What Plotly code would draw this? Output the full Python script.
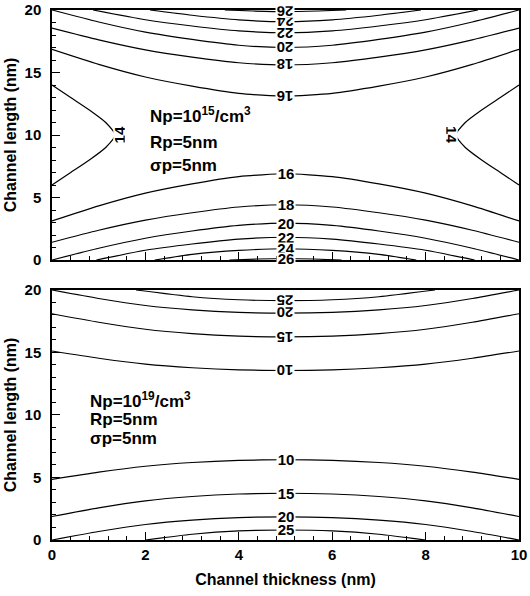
import plotly.graph_objects as go

# ---------------- data ----------------
X_FULL = [0, 1, 2, 3, 4, 5, 6, 7, 8, 9, 10]

# Top panel (Np = 1e15), contour levels and their lines (x, y in nm)
top_16_upper = [16.85, 15.65, 14.64, 13.91, 13.33, 13.10, 13.33, 13.91, 14.64, 15.65, 16.85]
top_16_lower = [3.12, 4.33, 5.35, 6.09, 6.67, 6.90, 6.67, 6.09, 5.35, 4.33, 3.12]
top_18_upper = [18.55, 17.61, 16.81, 16.23, 15.78, 15.60, 15.78, 16.23, 16.81, 17.61, 18.55]
top_18_lower = [1.42, 2.38, 3.19, 3.78, 4.24, 4.42, 4.24, 3.78, 3.19, 2.38, 1.42]
top_20_upper = [20.0, 19.04, 18.23, 17.65, 17.18, 17.00, 17.18, 17.65, 18.23, 19.04, 20.0]
top_20_lower = [0.0, 0.94, 1.74, 2.32, 2.77, 2.95, 2.77, 2.32, 1.74, 0.94, 0.0]
top_22_upper_x = [0.88, 2, 3, 4, 5, 6, 7, 8, 9.12]
top_22_upper = [20.0, 19.22, 18.72, 18.33, 18.18, 18.33, 18.72, 19.22, 20.0]
top_22_lower_x = [0.95, 2, 3, 4, 5, 6, 7, 8, 9.05]
top_22_lower = [0.0, 0.78, 1.28, 1.67, 1.82, 1.67, 1.28, 0.78, 0.0]
top_24_upper_x = [2.1, 3, 4, 5, 6, 7, 7.9]
top_24_upper = [20.0, 19.58, 19.21, 19.07, 19.21, 19.58, 20.0]
top_24_lower_x = [2.2, 3, 4, 5, 6, 7, 7.8]
top_24_lower = [0.0, 0.45, 0.77, 0.90, 0.77, 0.45, 0.0]
top_26_upper_x = [3.7, 4.3, 5, 5.7, 6.3]
top_26_upper = [20.0, 19.92, 19.87, 19.92, 20.0]
top_26_lower_x = [3.8, 4.4, 5, 5.6, 6.2]
top_26_lower = [0.0, 0.08, 0.12, 0.08, 0.0]
top_14_y = [14, 13, 12, 11, 10, 9, 8, 7, 6]
top_14_left_x = [0, 0.40, 0.80, 1.15, 1.35, 1.15, 0.80, 0.40, 0]
top_14_right_x = [10, 9.60, 9.20, 8.85, 8.65, 8.85, 9.20, 9.60, 10]

# Bottom panel (Np = 1e19)
bot_10_upper = [15.12, 14.54, 14.07, 13.78, 13.61, 13.56, 13.61, 13.78, 14.07, 14.54, 15.12]
bot_10_lower = [4.85, 5.43, 5.90, 6.20, 6.37, 6.42, 6.37, 6.20, 5.90, 5.43, 4.85]
bot_15_upper = [18.10, 17.42, 16.86, 16.51, 16.31, 16.25, 16.31, 16.51, 16.86, 17.42, 18.10]
bot_15_lower = [1.88, 2.57, 3.13, 3.48, 3.68, 3.74, 3.68, 3.48, 3.13, 2.57, 1.88]
bot_20_upper = [20.0, 19.32, 18.76, 18.41, 18.21, 18.15, 18.21, 18.41, 18.76, 19.32, 20.0]
bot_20_lower = [0.0, 0.68, 1.24, 1.59, 1.79, 1.85, 1.79, 1.59, 1.24, 0.68, 0.0]
bot_25_upper_x = [1.8, 3, 4, 5, 6, 7, 8.2]
bot_25_upper = [20.0, 19.46, 19.22, 19.15, 19.22, 19.46, 20.0]
bot_25_lower_x = [2.0, 3, 4, 5, 6, 7, 8.0]
bot_25_lower = [0.0, 0.46, 0.73, 0.80, 0.73, 0.46, 0.0]

# (level, x, y, upper-half?) for each labelled line
top_lines = [
    (16, X_FULL, top_16_upper, True), (16, X_FULL, top_16_lower, False),
    (18, X_FULL, top_18_upper, True), (18, X_FULL, top_18_lower, False),
    (20, X_FULL, top_20_upper, True), (20, X_FULL, top_20_lower, False),
    (22, top_22_upper_x, top_22_upper, True), (22, top_22_lower_x, top_22_lower, False),
    (24, top_24_upper_x, top_24_upper, True), (24, top_24_lower_x, top_24_lower, False),
    (26, top_26_upper_x, top_26_upper, True), (26, top_26_lower_x, top_26_lower, False),
]
bot_lines = [
    (10, X_FULL, bot_10_upper, True), (10, X_FULL, bot_10_lower, False),
    (15, X_FULL, bot_15_upper, True), (15, X_FULL, bot_15_lower, False),
    (20, X_FULL, bot_20_upper, True), (20, X_FULL, bot_20_lower, False),
    (25, bot_25_upper_x, bot_25_upper, True), (25, bot_25_lower_x, bot_25_lower, False),
]

X_TICKS = [0, 2, 4, 6, 8, 10]
Y_TICKS = [0, 5, 10, 15, 20]

# ---------------- figure ----------------
FONT = "Liberation Sans, Arial, sans-serif"
fig = go.Figure()
line_style = dict(color="black", width=1.2, shape="spline", smoothing=0.6)

def add_line(x, y, xa, ya):
    fig.add_trace(go.Scatter(x=x, y=y, mode="lines", line=line_style,
                             xaxis=xa, yaxis=ya, hoverinfo="skip", showlegend=False))

annotations = []

def add_label(text, x, y, xa, ya, angle):
    annotations.append(dict(
        text=str(text), x=x, y=y, xref=xa, yref=ya, showarrow=False,
        textangle=angle, bgcolor="white", width=18, height=11, borderpad=0,
        font=dict(family=FONT, size=15, color="black", weight="bold"),
        xanchor="center", yanchor="middle"))

for lines, xa, ya in [(top_lines, "x", "y"), (bot_lines, "x2", "y2")]:
    for level, xs, ys, upper in lines:
        add_line(xs, ys, xa, ya)
        yc = ys[xs.index(5)]
        add_label(level, 5, yc, xa, ya, 180 if upper else 0)

add_line(top_14_left_x, top_14_y, "x", "y")
add_line(top_14_right_x, top_14_y, "x", "y")
add_label(14, top_14_left_x[4] + 0.08, top_14_y[4], "x", "y", -90)
add_label(14, top_14_right_x[4] - 0.08, top_14_y[4], "x", "y", 90)

# parameter text blocks
def add_text(text, x, y, xa, ya, size):
    annotations.append(dict(text=text, x=x, y=y, xref=xa, yref=ya, showarrow=False,
                            xanchor="left", yanchor="middle",
                            font=dict(family=FONT, size=size, color="black", weight="bold")))

add_text("Np=10<sup>15</sup>/cm<sup>3</sup>", 2.05, 11.6, "x", "y", 17)
add_text("Rp=5nm", 2.05, 9.4, "x", "y", 17)
add_text("σp=5nm", 2.05, 7.6, "x", "y", 17)
add_text("Np=10<sup>19</sup>/cm<sup>3</sup>", 0.78, 11.2, "x2", "y2", 17)
add_text("Rp=5nm", 0.78, 9.65, "x2", "y2", 17)
add_text("σp=5nm", 0.78, 8.1, "x2", "y2", 17)

tickfont = dict(family=FONT, size=15, color="black", weight="bold")
titlefont = dict(family=FONT, size=16, color="black", weight="bold")

def xaxis(domain, anchor, labels):
    d = dict(domain=domain, anchor=anchor, range=[0, 10], tickvals=X_TICKS,
             showticklabels=labels, ticks="inside", ticklen=8, tickwidth=1, tickcolor="black",
             minor=dict(ticks="inside", ticklen=4, dtick=0.4, tick0=0, tickcolor="black"),
             showline=True, linecolor="black", linewidth=1.5, mirror=True,
             showgrid=False, zeroline=False, tickfont=tickfont, automargin=False)
    return d

def yaxis(domain, anchor):
    return dict(domain=domain, anchor=anchor, range=[0, 20], tickvals=Y_TICKS,
                ticks="inside", ticklen=8, tickwidth=1, tickcolor="black",
                minor=dict(ticks="inside", ticklen=4, dtick=1, tick0=0, tickcolor="black"),
                showline=True, linecolor="black", linewidth=1.5, mirror=True,
                showgrid=False, zeroline=False, tickfont=tickfont, ticklabelstandoff=6,
                automargin=False,
                title=dict(text="Channel length (nm)", font=titlefont, standoff=4))

xa2 = xaxis([0, 1], "y2", True)
xa2["title"] = dict(text="Channel thickness (nm)", font=titlefont, standoff=12)

fig.update_layout(
    width=530, height=596,
    margin=dict(l=52, r=11, t=10, b=56, autoexpand=False),
    paper_bgcolor="white", plot_bgcolor="white",
    xaxis=xaxis([0, 1], "y", False),
    yaxis=yaxis([0.5283, 1.0], "x"),
    xaxis2=xa2,
    yaxis2=yaxis([0.0, 0.4717], "x2"),
    annotations=annotations,
    showlegend=False,
)

fig.write_html("out.html")
